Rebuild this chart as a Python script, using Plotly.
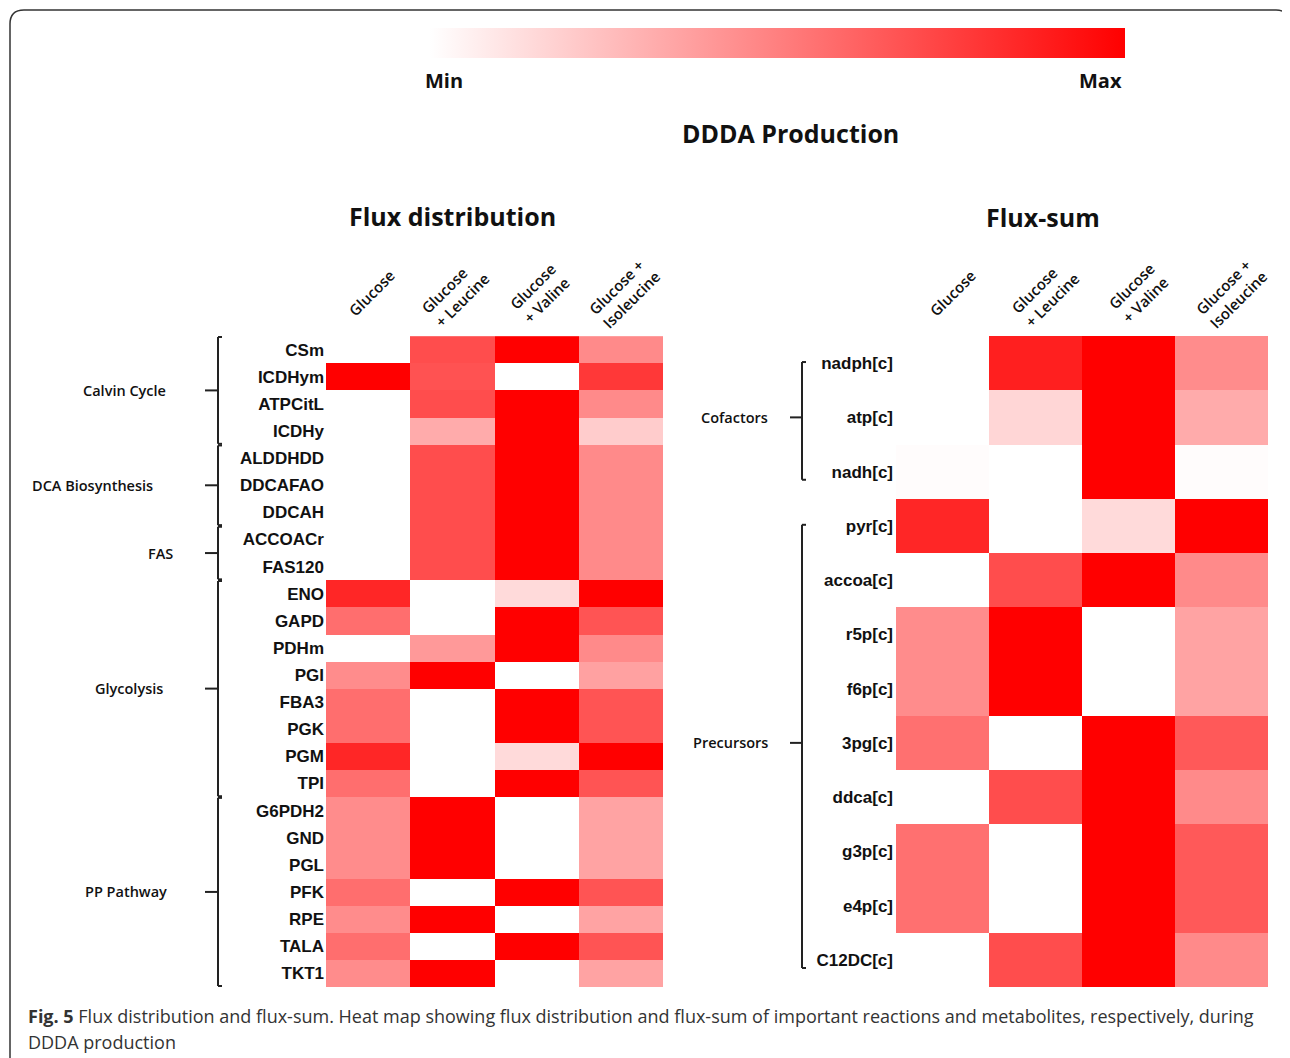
import plotly.graph_objects as go

OFF = 8  # page body margin of the html page
W, H = 1290 - OFF, 1058 - OFF  # figure size that fills the visible window

# ---------------- data ----------------
conditions = ["Glucose", "Glucose + Leucine", "Glucose + Valine", "Glucose + Isoleucine"]
header_labels = ["Glucose", "Glucose<br>+ Leucine", "Glucose<br>+ Valine", "Glucose +<br>Isoleucine"]

reactions = ["CSm", "ICDHym", "ATPCitL", "ICDHy", "ALDDHDD", "DDCAFAO", "DDCAH", "ACCOACr",
             "FAS120", "ENO", "GAPD", "PDHm", "PGI", "FBA3", "PGK", "PGM", "TPI", "G6PDH2",
             "GND", "PGL", "PFK", "RPE", "TALA", "TKT1"]
flux_glucose = [0.0, 1.0, 0.0, 0.0, 0.0, 0.0, 0.0, 0.0, 0.0, 0.85, 0.57, 0.0, 0.45, 0.57,
                0.57, 0.85, 0.57, 0.45, 0.45, 0.45, 0.57, 0.45, 0.57, 0.45]
flux_leucine = [0.70, 0.68, 0.70, 0.33, 0.70, 0.70, 0.70, 0.70, 0.70, 0.0, 0.0, 0.40, 1.0,
                0.0, 0.0, 0.0, 0.0, 1.0, 1.0, 1.0, 0.0, 1.0, 0.0, 1.0]
flux_valine = [1.0, 0.0, 1.0, 1.0, 1.0, 1.0, 1.0, 1.0, 1.0, 0.145, 1.0, 1.0, 0.0, 1.0,
               1.0, 0.145, 1.0, 0.0, 0.0, 0.0, 1.0, 0.0, 1.0, 0.0]
flux_isoleucine = [0.46, 0.78, 0.46, 0.20, 0.46, 0.46, 0.46, 0.46, 0.46, 1.0, 0.67, 0.46,
                   0.37, 0.67, 0.67, 1.0, 0.67, 0.36, 0.36, 0.36, 0.67, 0.36, 0.67, 0.36]

metabolites = ["nadph[c]", "atp[c]", "nadh[c]", "pyr[c]", "accoa[c]", "r5p[c]", "f6p[c]",
               "3pg[c]", "ddca[c]", "g3p[c]", "e4p[c]", "C12DC[c]"]
fsum_glucose = [0.0, 0.0, 0.01, 0.85, 0.0, 0.45, 0.45, 0.56, 0.0, 0.56, 0.56, 0.0]
fsum_leucine = [0.88, 0.16, 0.0, 0.0, 0.70, 1.0, 1.0, 0.0, 0.70, 0.0, 0.0, 0.70]
fsum_valine = [1.0, 1.0, 1.0, 0.145, 1.0, 0.0, 0.0, 1.0, 1.0, 1.0, 1.0, 1.0]
fsum_isoleucine = [0.45, 0.33, 0.01, 1.0, 0.46, 0.36, 0.36, 0.65, 0.46, 0.65, 0.65, 0.46]

reaction_groups = [("Calvin Cycle", 0, 3), ("DCA Biosynthesis", 4, 6), ("FAS", 7, 8),
                   ("Glycolysis", 9, 16), ("PP Pathway", 17, 23)]
metabolite_groups = [("Cofactors", 0, 2), ("Precursors", 3, 11)]

# ---------------- helpers ----------------
def px(x):
    return (x - OFF) / W


def py(y):
    return 1 - (y - OFF) / H


colorscale = [[0, "#ffffff"], [1, "#ff0000"]]
z_flux = [list(r) for r in zip(flux_glucose, flux_leucine, flux_valine, flux_isoleucine)]
z_fsum = [list(r) for r in zip(fsum_glucose, fsum_leucine, fsum_valine, fsum_isoleucine)]

fig = go.Figure()
fig.add_trace(go.Heatmap(
    z=z_flux, x=conditions, y=reactions, xaxis="x", yaxis="y",
    colorscale=colorscale, zmin=0, zmax=1, showscale=True,
    colorbar=dict(orientation="h", x=px(777.5), xanchor="center", y=py(43), yanchor="middle",
                  len=695, lenmode="pixels", thickness=30, outlinewidth=0,
                  xpad=0, ypad=0, showticklabels=False, ticks=""),
))
fig.add_trace(go.Heatmap(
    z=z_fsum, x=conditions, y=metabolites, xaxis="x2", yaxis="y2",
    colorscale=colorscale, zmin=0, zmax=1, showscale=False,
))

rowfont = dict(family="Liberation Sans, Arial", size=17, color="#111111", weight="bold")
fig.update_layout(
    width=W, height=H, margin=dict(l=0, r=0, t=0, b=0), autosize=False,
    paper_bgcolor="white", plot_bgcolor="white", showlegend=False,
    xaxis=dict(domain=[px(326), px(667)], showticklabels=False, showgrid=False, zeroline=False,
               ticks=""),
    yaxis=dict(domain=[py(987), py(336)], autorange="reversed", showgrid=False, zeroline=False,
               ticks="", tickfont=rowfont, ticklabelstandoff=1),
    xaxis2=dict(domain=[px(896), px(1274)], anchor="y2", showticklabels=False, showgrid=False,
                zeroline=False, ticks=""),
    yaxis2=dict(domain=[py(987), py(336)], anchor="x2", autorange="reversed", showgrid=False,
                zeroline=False, ticks="", tickfont=rowfont, ticklabelstandoff=2),
)

ann = []
shapes = []


def text_ann(text, x, y, font, xref="paper", yref="paper", xanchor="center", **kw):
    d = dict(text=text, x=x, y=y, xref=xref, yref=yref, xanchor=xanchor, yanchor="middle",
             showarrow=False, font=font)
    d.update(kw)
    ann.append(d)


titlefont = dict(family="Open Sans", size=25, color="#111111", weight="bold")
text_ann("DDDA Production", px(790), py(133), titlefont)
text_ann("Flux distribution", px(452), py(216), titlefont)
text_ann("Flux-sum", px(1043), py(217), titlefont)
mmfont = dict(family="Open Sans", size=20, color="#111111", weight="bold")
text_ann("Min", px(444), py(80), mmfont)
text_ann("Max", px(1100), py(80), mmfont)

# column headers
hfont = dict(family="Open Sans", size=15, color="#111111", weight=600)
for xa, shift in (("x", 3), ("x2", 10)):
    for cond, lab in zip(conditions, header_labels):
        text_ann(lab, cond, py(293), hfont, xref=xa, xshift=shift, textangle=-45, align="left")

# group brackets
gfont = dict(family="Open Sans", size=14.5, color="#111111", weight=600)
left_label_x = [124, 92, 160, 129, 126]
lc = "#222222"
for (name, s, e), lx in zip(reaction_groups, left_label_x):
    top, bot = s - 0.5 + 0.03, e + 0.5 - 0.03
    mid = (s + e) / 2
    bx = px(218)
    shapes.append(dict(type="line", xref="paper", yref="y", x0=bx, x1=bx, y0=top, y1=bot,
                       line=dict(color=lc, width=2)))
    for yy in (top, bot):
        shapes.append(dict(type="line", xref="paper", yref="y", x0=bx, x1=px(222), y0=yy, y1=yy,
                           line=dict(color=lc, width=2)))
    shapes.append(dict(type="line", xref="paper", yref="y", x0=px(205), x1=bx, y0=mid, y1=mid,
                       line=dict(color=lc, width=2)))
    text_ann(name, px(lx), mid, gfont, yref="y")

for name, s, e in metabolite_groups:
    top, bot = s - 0.02, e + 0.15
    mid = (s + e) / 2
    bx = px(802)
    shapes.append(dict(type="line", xref="paper", yref="y2", x0=bx, x1=bx, y0=top, y1=bot,
                       line=dict(color=lc, width=2)))
    for yy in (top, bot):
        shapes.append(dict(type="line", xref="paper", yref="y2", x0=bx, x1=px(806), y0=yy, y1=yy,
                           line=dict(color=lc, width=2)))
    shapes.append(dict(type="line", xref="paper", yref="y2", x0=px(790), x1=bx, y0=mid, y1=mid,
                       line=dict(color=lc, width=2)))
    text_ann(name, px(770), mid, gfont, yref="y2", xanchor="right")

# caption
cfont = dict(family="Open Sans", size=18, color="#333333")
text_ann("<b>Fig. 5</b> Flux distribution and flux-sum. Heat map showing flux distribution "
         "and flux-sum of important reactions and metabolites, respectively, during",
         px(26), py(1016), cfont, xanchor="left")
text_ann("DDDA production", px(26), py(1042), cfont, xanchor="left")

# frame (left side and top with rounded corners)
path = (f"M {px(10)},{py(1058 + OFF)} L {px(10)},{py(24)} Q {px(10)},{py(10)} {px(24)},{py(10)} "
        f"L {px(1276)},{py(10)} Q {px(1289)},{py(10)} {px(1289)},{py(24)} L {px(1289)},{py(1058 + OFF)}")
shapes.append(dict(type="path", xref="paper", yref="paper", path=path,
                   line=dict(color="#333333", width=1.5)))

fig.update_layout(annotations=ann, shapes=shapes)
fig.write_html("out.html")
